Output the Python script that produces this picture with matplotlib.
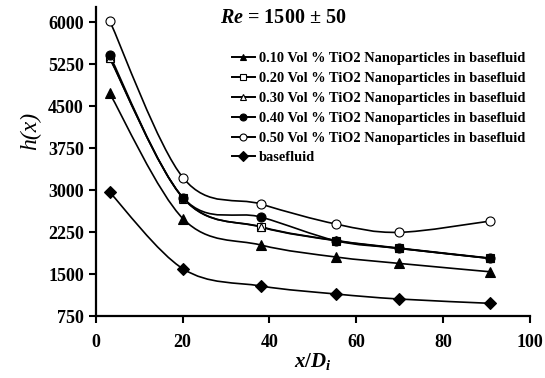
import numpy as np
import matplotlib.pyplot as plt
from matplotlib.path import Path
from matplotlib.patches import PathPatch
from matplotlib.lines import Line2D

plt.rcParams['font.family'] = 'Liberation Serif'
plt.rcParams['font.weight'] = 'bold'
plt.rcParams['mathtext.fontset'] = 'custom'
plt.rcParams['mathtext.it'] = 'Liberation Serif:italic:bold'
plt.rcParams['mathtext.rm'] = 'Liberation Serif:bold'

# axial position x/Di
xpos = [3.2, 20.2, 38.1, 55.4, 69.8, 90.8]

# heat transfer coefficient h(x)
h_010 = [4732, 2482, 2018, 1804, 1691, 1541]
h_020 = [5360, 2857, 2339, 2095, 1959, 1780]
h_030 = [5370, 2850, 2345, 2100, 1965, 1785]
h_040 = [5411, 2857, 2518, 2095, 1959, 1780]
h_050 = [6030, 3214, 2750, 2393, 2245, 2446]
h_base = [2964, 1589, 1286, 1143, 1054, 977]

labels = ["0.10 Vol % TiO2 Nanoparticles in basefluid",
          "0.20 Vol % TiO2 Nanoparticles in basefluid",
          "0.30 Vol % TiO2 Nanoparticles in basefluid",
          "0.40 Vol % TiO2 Nanoparticles in basefluid",
          "0.50 Vol % TiO2 Nanoparticles in basefluid",
          "basefluid"]
series = [h_010, h_020, h_030, h_040, h_050, h_base]
markers = ['^', 's', '^', 'o', 'o', 'D']
faces = ['k', 'w', 'w', 'k', 'w', 'k']
msizes = [6.5, 6, 6, 6.5, 6.5, 6]


def smooth_path(x, y):
    """
    Spreadsheet style smoothed line: cubic Bezier segments with
    Catmull-Rom control points
    """
    p = np.column_stack([x, y]).astype(float)
    p = np.vstack([p[0], p, p[-1]])
    verts = [p[1]]
    codes = [Path.MOVETO]
    for i in range(1, len(p) - 2):
        c1 = p[i] + (p[i + 1] - p[i - 1]) / 6.
        c2 = p[i + 1] - (p[i + 2] - p[i]) / 6.
        verts += [c1, c2, p[i + 1]]
        codes += [Path.CURVE4] * 3
    return Path(verts, codes)


fig = plt.figure(figsize=(5.45, 3.78), dpi=100)
ax = fig.add_axes([0.1756, 0.164, 0.7964, 0.817])

handles = []
for ys, m, fc, ms, lab in zip(series, markers, faces, msizes, labels):
    ax.add_patch(PathPatch(smooth_path(xpos, ys), fc='none', ec='k', lw=1.2, zorder=2))
    ax.plot(xpos, ys, ls='none', marker=m, ms=ms, mfc=fc, mec='k', mew=0.8, zorder=3)
    handles.append(Line2D([], [], color='k', lw=1.4, marker=m, ms=5, mfc=fc, mec='k',
                          mew=0.8, label=lab))

ax.set_xlim(0, 100)
ax.set_ylim(750, 6270)
ax.set_xticks([0, 20, 40, 60, 80, 100])
ax.set_yticks([750, 1500, 2250, 3000, 3750, 4500, 5250, 6000])
ax.tick_params(direction='out', length=5, width=1.5, labelsize=13)
for s in ['top', 'right']:
    ax.spines[s].set_visible(False)
for s in ['left', 'bottom']:
    ax.spines[s].set_linewidth(1.6)
ax.tick_params(axis='x', pad=8)

ax.set_xlabel(r'$x/D_i$', fontsize=15, labelpad=0)
ax.set_ylabel('h(x)', fontsize=17, fontstyle='italic')
ax.yaxis.set_label_coords(-0.125, 0.60)

fig.text(0.404, 0.952, r'$Re$ = 1500 ± 50', fontsize=14.5, va='center')

leg = ax.legend(handles=handles, loc='upper left', bbox_to_anchor=(0.3, 0.874),
                frameon=False, fontsize=10.4, handlelength=1.6, handletextpad=0.3,
                labelspacing=0.47, borderaxespad=0)

fig.savefig("out.png", dpi=100)
